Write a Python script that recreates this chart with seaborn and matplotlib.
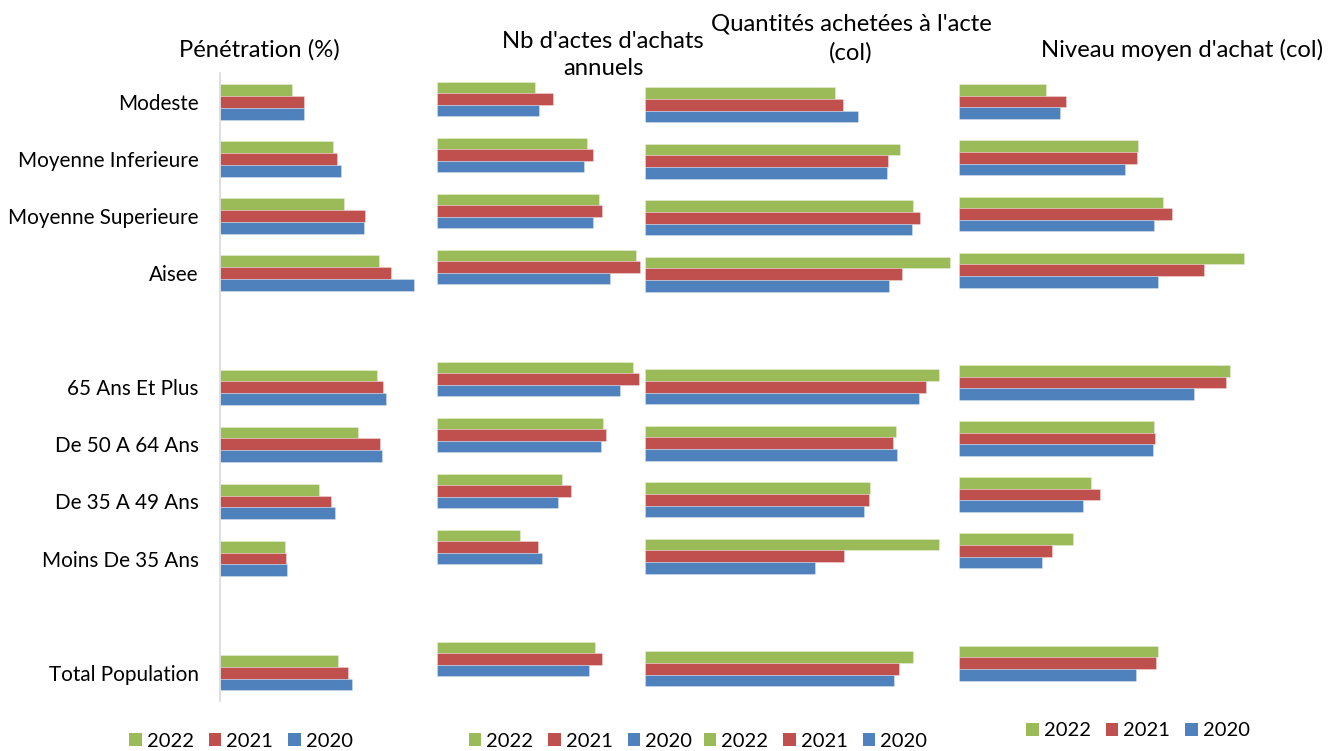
import matplotlib
matplotlib.use("Agg")
import matplotlib.pyplot as plt
from matplotlib.patches import Patch
import pandas as pd
import seaborn as sns

# ---- data -------------------------------------------------------------
categories = ["Modeste", "Moyenne Inferieure", "Moyenne Superieure", "Aisee",
              "65 Ans Et Plus", "De 50 A 64 Ans", "De 35 A 49 Ans",
              "Moins De 35 Ans", "Total Population"]
years = ["2022", "2021", "2020"]

# Pénétration (%)
penetration_2022 = [20.7, 32.3, 35.7, 45.7, 44.9, 39.5, 28.4, 18.7, 33.8]
penetration_2021 = [24.1, 33.7, 41.7, 48.9, 46.6, 45.9, 31.8, 19.1, 36.8]
penetration_2020 = [24.1, 34.6, 41.2, 55.6, 47.6, 46.4, 33.0, 19.4, 37.9]

# Nb d'actes d'achats annuels
actes_2022 = [3.92, 5.98, 6.45, 7.95, 7.83, 6.61, 5.00, 3.31, 6.30]
actes_2021 = [4.62, 6.24, 6.58, 8.10, 8.07, 6.74, 5.36, 4.03, 6.58]
actes_2020 = [4.06, 5.86, 6.22, 6.92, 7.30, 6.56, 4.83, 4.18, 6.06]

# Quantités achetées à l'acte (col)
quantite_2022 = [7.62, 10.23, 10.74, 12.23, 11.78, 10.05, 9.02, 11.78, 10.75]
quantite_2021 = [7.93, 9.73, 11.03, 10.31, 11.27, 9.95, 8.97, 7.97, 10.18]
quantite_2020 = [8.53, 9.70, 10.70, 9.79, 10.99, 10.11, 8.77, 6.83, 9.98]

# Niveau moyen d'achat (col)
niveau_2022 = [29.7, 61.1, 69.4, 97.1, 92.2, 66.3, 45.1, 38.9, 67.9]
niveau_2021 = [36.5, 60.5, 72.7, 83.3, 90.8, 66.8, 48.2, 31.8, 67.0]
niveau_2020 = [34.5, 56.7, 66.4, 67.7, 80.1, 66.2, 42.3, 28.3, 60.4]

titles = ["Pénétration (%)", "Nb d'actes d'achats\nannuels",
          "Quantités achetées à l'acte\n(col)", "Niveau moyen d'achat (col)"]

colors = {"2022": "#9BBB59", "2021": "#C0504D", "2020": "#4F81BD"}

# rows shown top to bottom, with two empty separator rows
row_order = categories[:4] + [" "] + categories[4:8] + ["  "] + categories[8:]


def long_table(v2022, v2021, v2020):
    frames = []
    for year, vals in zip(years, (v2022, v2021, v2020)):
        frames.append(pd.DataFrame({"categorie": categories,
                                    "annee": year, "valeur": vals}))
    return pd.concat(frames, ignore_index=True)


tables = [
    long_table(penetration_2022, penetration_2021, penetration_2020),
    long_table(actes_2022, actes_2021, actes_2020),
    long_table(quantite_2022, quantite_2021, quantite_2020),
    long_table(niveau_2022, niveau_2021, niveau_2020),
]

# ---- layout (pixels) ---------------------------------------------------
W, H = 1342, 751
# left, top, bottom, pixels per unit, x max
panels = [
    (219.5, 73.3, 701.3, 3.5, 60),
    (437.4, 70.9, 686.9, 25.0, 8.2),
    (644.5, 76.7, 697.1, 25.0, 12.4),
    (958.7, 73.6, 691.2, 2.94, 100),
]
title_pos = [(259.5, 50), (603, 55), (851, 38.5), (1182, 50)]
legend_pos = [(241, 741.5), (580.5, 741.5), (815.5, 741.5), (1138, 731)]

sns.set_theme(style="white")
FONT = ["Lato", "DejaVu Sans"]
plt.rcParams["font.family"] = FONT
plt.rcParams["text.color"] = "#000000"

fig = plt.figure(figsize=(W / 100, H / 100), dpi=100)

for i, (df, (left, top, bottom, ppu, xmax)) in enumerate(zip(tables, panels)):
    width = xmax * ppu
    ax = fig.add_axes([left / W, 1 - bottom / H, width / W, (bottom - top) / H])
    sns.barplot(data=df, y="categorie", x="valeur", hue="annee",
                order=row_order, hue_order=years, palette=colors,
                saturation=1, width=0.62, orient="h",
                edgecolor=(1, 1, 1, 0.35), linewidth=0.6,
                legend=False, ax=ax, errorbar=None)
    ax.set_xlim(0, xmax)
    ax.set_ylim(len(row_order) - 0.5, -0.5)
    ax.set_xlabel("")
    ax.set_ylabel("")
    ax.set_xticks([])
    for side in ("top", "right", "bottom"):
        ax.spines[side].set_visible(False)
    if i == 0:
        ax.spines["left"].set_color("#D9D9D9")
        ax.spines["left"].set_linewidth(1.2)
        ax.tick_params(axis="y", length=0, pad=15, labelsize=14.9,
                       labelcolor="#000000")
    else:
        ax.spines["left"].set_visible(False)
        ax.set_yticks([])
    ax.patch.set_alpha(0)

    tx, ty = title_pos[i]
    fig.text(tx / W, 1 - ty / H, titles[i], ha="center", va="center",
             fontsize=17.2, linespacing=1.38)

    lx, ly = legend_pos[i]
    handles = [Patch(facecolor=colors[y], edgecolor="none") for y in years]
    fig.legend(handles, years, loc="center", bbox_to_anchor=(lx / W, 1 - ly / H),
               ncol=3, frameon=False, fontsize=14.5, handlelength=0.62,
               handleheight=0.62, handletextpad=0.25, columnspacing=0.75,
               borderpad=0, borderaxespad=0)

fig.savefig("out.png", dpi=100, facecolor="white")
